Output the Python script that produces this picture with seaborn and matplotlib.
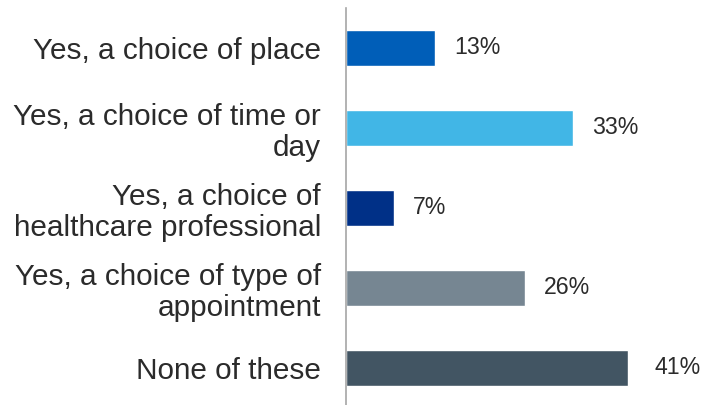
import matplotlib
matplotlib.use("Agg")
import matplotlib.pyplot as plt
import seaborn as sns
import numpy as np

# data
categories = ["Yes, a choice of place",
              "Yes, a choice of time or\nday",
              "Yes, a choice of\nhealthcare professional",
              "Yes, a choice of type of\nappointment",
              "None of these"]
values = [13, 33, 7, 26, 41]
bar_colors = ["#005EB8", "#41B6E6", "#003087", "#768692", "#425563"]

sns.set_style("white")
plt.rcParams["font.family"] = ["Liberation Sans", "DejaVu Sans"]

fig = plt.figure(figsize=(7.03, 4.05), dpi=100)
ax = fig.add_axes([346 / 703, -3 / 405, 344 / 703, 400 / 405])

sns.barplot(x=values, y=categories, hue=categories, palette=bar_colors,
            legend=False, width=0.45, orient="h", ax=ax, saturation=1)

ax.set_xlim(0, 50)
ax.set_ylim(4.5, -0.5)
ax.set_xlabel("")
ax.set_ylabel("")

# value labels, the last one sits a bit further out in the original
for i, c in enumerate(ax.containers):
    pad = 19 if i == len(ax.containers) - 1 else 13.5
    ax.bar_label(c, labels=[f"{v:.0f}%" for v in c.datavalues],
                 padding=pad, fontsize=16.7, color="#2b2b2b")

# axis styling: only the left line with ticks between categories
for side in ["top", "right", "bottom"]:
    ax.spines[side].set_visible(False)
ax.spines["left"].set_color("#A6A6A6")
ax.spines["left"].set_linewidth(1.2)
ax.set_xticks([])
ax.set_yticks(range(len(categories)))
ax.set_yticklabels(categories, fontsize=21.4, color="#2b2b2b", linespacing=1.12)
ax.tick_params(axis="y", which="major", length=0, pad=18)
ax.set_yticks(np.arange(-0.5, len(categories), 1), minor=True)
ax.tick_params(axis="y", which="minor", length=6, width=1.2, color="#A6A6A6")

fig.savefig("out.png", dpi=100)
